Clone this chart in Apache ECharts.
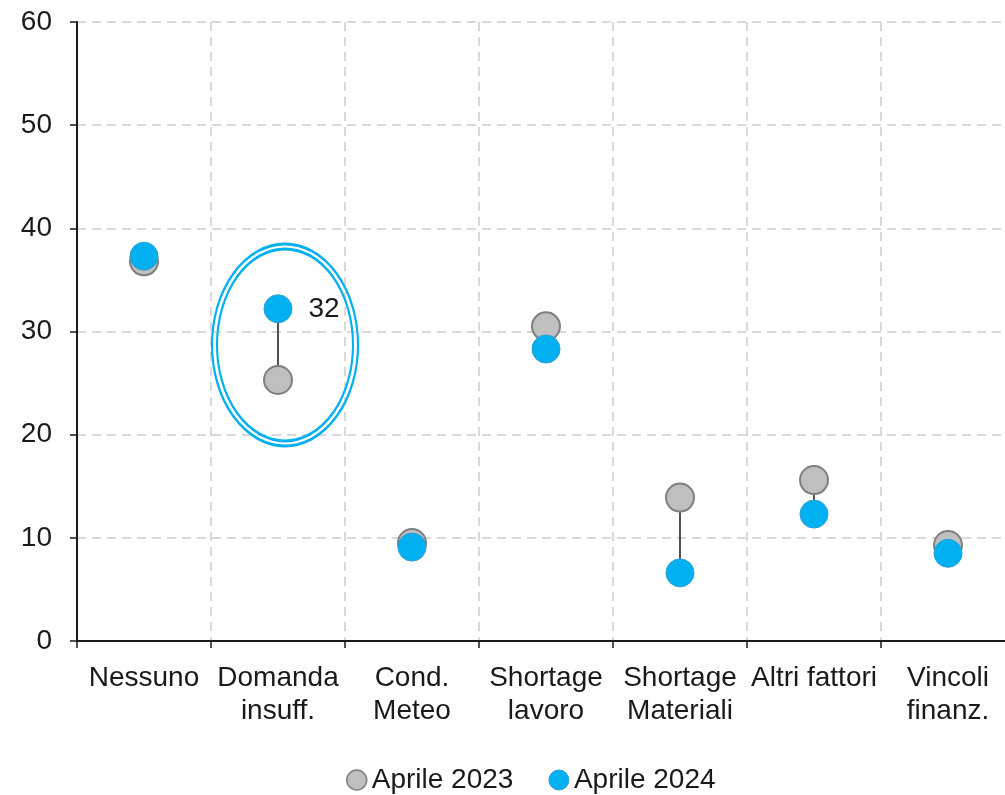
<!DOCTYPE html>
<html>
<head>
    <meta charset="utf-8">
    <title>Fattori limitanti</title>
    <script src="https://cdn.jsdelivr.net/npm/echarts@6/dist/echarts.min.js"></script>
    <style>
        html, body { margin: 0; padding: 0; background: #fff; overflow: hidden; }
    </style>
</head>
<body>
    <div id="main" style="width: 1005px;height:795px;"></div>
    <script type="text/javascript">
        // dati
        var categorie = ['Nessuno', 'Domanda\ninsuff.', 'Cond.\nMeteo', 'Shortage\nlavoro', 'Shortage\nMateriali', 'Altri fattori', 'Vincoli\nfinanz.'];
        var aprile2023 = [36.8, 25.3, 9.5, 30.5, 13.9, 15.6, 9.3];
        var aprile2024 = [37.3, 32.2, 9.1, 28.3, 6.6, 12.3, 8.5];
        var yTicks = [0, 10, 20, 30, 40, 50, 60];
        // evidenziazione: categoria e valore centrale dell'ellisse
        var evidenza = { cat: 1, val: 28.7 };

        var grigio = '#bfbfbf', grigioBordo = '#7f7f7f';
        var blu = '#00b0f0', bluBordo = '#2a9fd6';
        var fontName = 'Liberation Sans, Arial, sans-serif';

        var connettori = categorie.map(function (c, i) { return [i, aprile2023[i], aprile2024[i]]; });

        var datiBlu = aprile2024.map(function (v, i) {
            if (i === evidenza.cat) {
                return {
                    value: v,
                    label: {
                        show: true, position: 'right', distance: 16,
                        formatter: function (p) { return Math.round(p.value); },
                        color: '#1a1a1a', fontSize: 28, fontFamily: fontName
                    }
                };
            }
            return v;
        });

        var myChart = echarts.init(document.getElementById('main'));
        var option = {
            animation: false,
            textStyle: { fontFamily: fontName },
            // il grafico originale e' tagliato a destra
            grid: { left: 77, top: 22, width: 938, height: 619, outerBoundsMode: 'none', containLabel: false },
            legend: {
                top: 766,
                left: 346,
                padding: 0,
                itemWidth: 20,
                itemHeight: 20,
                itemGap: 35,
                textStyle: { fontSize: 28, color: '#1a1a1a', fontFamily: fontName },
                data: [
                    { name: 'Aprile 2023', icon: 'circle', itemStyle: { color: grigio, borderColor: grigioBordo, borderWidth: 1.5 } },
                    { name: 'Aprile 2024', icon: 'circle', itemStyle: { color: blu, borderColor: bluBordo, borderWidth: 1 } }
                ]
            },
            xAxis: {
                type: 'category',
                data: categorie,
                boundaryGap: true,
                axisLine: { lineStyle: { color: '#1a1a1a', width: 2 } },
                axisTick: { show: true, length: 7, lineStyle: { color: '#1a1a1a', width: 1.5 } },
                axisLabel: { color: '#1a1a1a', fontSize: 28, lineHeight: 33, margin: 21, interval: 0, fontFamily: fontName, hideOverlap: false },
                splitLine: { show: true, lineStyle: { color: '#d9d9d9', width: 2, type: [9, 6] } }
            },
            yAxis: {
                type: 'value',
                min: yTicks[0],
                max: yTicks[yTicks.length - 1],
                interval: 10,
                axisLine: { show: true, lineStyle: { color: '#1a1a1a', width: 2 } },
                axisTick: { show: true, length: 7, lineStyle: { color: '#1a1a1a', width: 1.5 } },
                axisLabel: { color: '#1a1a1a', fontSize: 28, margin: 25, fontFamily: fontName },
                splitLine: { show: true, lineStyle: { color: '#d9d9d9', width: 2, type: [9, 6] } }
            },
            series: [
                {
                    name: 'connettori',
                    type: 'custom',
                    z: 1,
                    silent: true,
                    data: connettori,
                    renderItem: function (params, api) {
                        var a = api.coord([api.value(0), api.value(1)]);
                        var b = api.coord([api.value(0), api.value(2)]);
                        return {
                            type: 'line',
                            shape: { x1: a[0], y1: a[1], x2: b[0], y2: b[1] },
                            style: { stroke: '#262626', lineWidth: 1.6 }
                        };
                    }
                },
                {
                    name: 'Aprile 2023',
                    type: 'scatter',
                    z: 2,
                    symbol: 'circle',
                    symbolSize: 28,
                    itemStyle: { color: grigio, borderColor: grigioBordo, borderWidth: 2, opacity: 1 },
                    data: aprile2023
                },
                {
                    name: 'Aprile 2024',
                    type: 'scatter',
                    z: 3,
                    symbol: 'circle',
                    symbolSize: 28,
                    itemStyle: { color: blu, borderColor: bluBordo, borderWidth: 1, opacity: 1 },
                    data: datiBlu,
                    markPoint: {
                        silent: true,
                        label: { show: false },
                        symbol: 'circle',
                        data: [
                            {
                                coord: [evidenza.cat, evidenza.val],
                                symbolSize: [146, 202],
                                symbolOffset: [7, 0],
                                itemStyle: { color: 'rgba(0,0,0,0)', borderColor: blu, borderWidth: 2.5 }
                            },
                            {
                                coord: [evidenza.cat, evidenza.val],
                                symbolSize: [136, 192],
                                symbolOffset: [7, 0],
                                itemStyle: { color: 'rgba(0,0,0,0)', borderColor: blu, borderWidth: 2.5 }
                            }
                        ]
                    }
                }
            ]
        };
        myChart.setOption(option);
    </script>
</body>
</html>
